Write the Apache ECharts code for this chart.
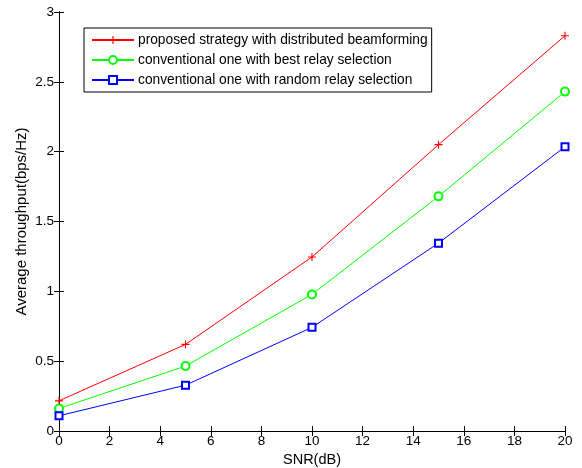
<!DOCTYPE html>
<html><head><meta charset="utf-8">
<script src="https://cdn.jsdelivr.net/npm/echarts@6/dist/echarts.min.js"></script>
<style>html,body{margin:0;padding:0;background:#fff}#c{width:582px;height:468px}</style>
</head><body><div id="c"></div>
<script>
const snr = [0, 5, 10, 15, 20];
const proposed = [0.216, 0.62, 1.246, 2.05, 2.83];
const bestRelay = [0.161, 0.465, 0.978, 1.68, 2.43];
const randomRelay = [0.109, 0.328, 0.742, 1.345, 2.035];
const seriesNames = [
  'proposed strategy with distributed beamforming',
  'conventional one with best relay selection',
  'conventional one with random relay selection'
];
const xTickLabels = ['0','2','4','6','8','10','12','14','16','18','20'];
const yTickLabels = ['0','0.5','1','1.5','2','2.5','3'];
const FONT = 'Liberation Sans, Arial, sans-serif';
const plus = 'path://M4.3,0L5.7,0L5.7,4.3L10,4.3L10,5.7L5.7,5.7L5.7,10L4.3,10L4.3,5.7L0,5.7L0,4.3L4.3,4.3Z';
const pair = (xs, ys) => xs.map((x, i) => [x, ys[i]]);
const chart = echarts.init(document.getElementById('c'));
const axisCommon = {
  axisLine: {lineStyle: {color: '#000', width: 1}},
  axisTick: {inside: true, length: 5, lineStyle: {color: '#000'}},
  splitLine: {show: false}
};
chart.setOption({
  animation: false,
  backgroundColor: '#fff',
  textStyle: {fontFamily: FONT},
  grid: {left: 59, top: 12, right: 17, bottom: 37, containLabel: false, outerBoundsMode: 'none'},
  legend: {
    left: 84, top: 28, orient: 'vertical',
    itemWidth: 42, itemHeight: 10, itemGap: 6,
    padding: [5, 4, 5, 7],
    borderColor: '#000', borderWidth: 1, backgroundColor: '#fff',
    textStyle: {fontFamily: FONT, fontSize: 13.75, lineHeight: 13, color: '#000', padding: [0,0,0,-1]},
    data: seriesNames
  },
  xAxis: [
    Object.assign({type: 'value', min: 0, max: 20, interval: 2, position: 'bottom',
      name: 'SNR(dB)', nameLocation: 'middle', nameGap: 21, nameMoveOverlap: false,
      nameTextStyle: {fontFamily: FONT, fontSize: 14.5, color: '#000'},
      axisLabel: {fontFamily: FONT, fontSize: 13.5, color: '#000', margin: 3,
        formatter: (v) => xTickLabels[Math.round(v / 2)]}}, axisCommon),
    Object.assign({type: 'value', min: 0, max: 20, interval: 2, position: 'top',
      axisLabel: {show: false}}, axisCommon)
  ],
  yAxis: [
    Object.assign({type: 'value', min: 0, max: 3, interval: 0.5, position: 'left',
      name: 'Average throughput(bps/Hz)', nameLocation: 'middle', nameGap: 30, nameMoveOverlap: false,
      nameTextStyle: {fontFamily: FONT, fontSize: 15, color: '#000'},
      axisLabel: {fontFamily: FONT, fontSize: 13.5, color: '#000', margin: 5,
        formatter: (v) => yTickLabels[Math.round(v * 2)]}}, axisCommon),
    Object.assign({type: 'value', min: 0, max: 3, interval: 0.5, position: 'right',
      axisLabel: {show: false}}, axisCommon)
  ],
  series: [
    {name: seriesNames[0], type: 'line', data: pair(snr, proposed), symbol: plus, symbolSize: 8,
      color: '#ff0000', lineStyle: {width: 1, color: '#ff0000'}, itemStyle: {color: '#ff0000'}, z: 3},
    {name: seriesNames[1], type: 'line', data: pair(snr, bestRelay), symbol: 'emptyCircle', symbolSize: 8,
      color: '#00ff00', lineStyle: {width: 1, color: '#00ff00'}, itemStyle: {color: '#00ff00', borderWidth: 1}, z: 3},
    {name: seriesNames[2], type: 'line', data: pair(snr, randomRelay), symbol: 'emptyRect', symbolSize: 7,
      color: '#0000ff', lineStyle: {width: 1, color: '#0000ff'}, itemStyle: {color: '#0000ff', borderWidth: 1}, z: 3}
  ]
});
</script></body></html>
